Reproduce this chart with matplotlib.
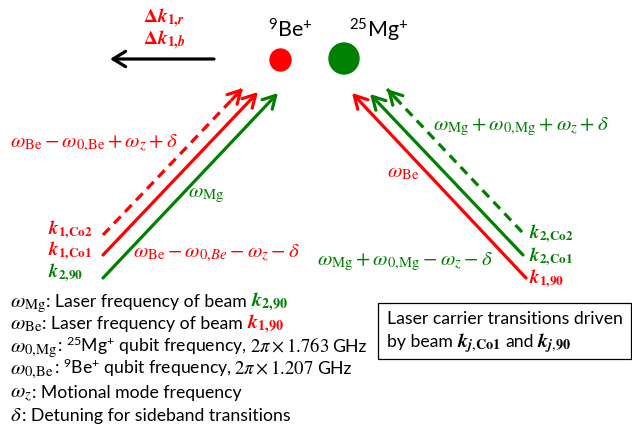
import matplotlib
matplotlib.use('Agg')
import matplotlib.pyplot as plt
from matplotlib.patches import Ellipse, FancyArrowPatch, Rectangle

plt.rcParams['font.family'] = ['Lato', 'DejaVu Sans']
plt.rcParams['mathtext.fontset'] = 'stix'

RED = '#ff0000'
GREEN = '#008000'

# ions: label, colour, centre, size, label position
ions = [
    (r'$\mathregular{^{9}}$Be$\mathregular{^{+}}$', RED, (280.5, 60), (21, 22), (290, 37)),
    (r'$\mathregular{^{25}}$Mg$\mathregular{^{+}}$', GREEN, (344, 58.5), (30, 31), (379, 37)),
]

# beams: start, tip, colour, dashed
beams_left = [
    ((103, 235), (243, 88), RED, True),
    ((103, 255), (258, 92), RED, False),
    ((103, 278), (278, 93), GREEN, False),
]
beams_right = [
    ((522, 232), (387, 89), GREEN, True),
    ((523, 255), (370, 94), GREEN, False),
    ((526, 278), (352, 93), RED, False),
]

beam_labels_left = [r'$\mathbfit{k}_{\mathbf{1,\!Co2}}$', r'$\mathbfit{k}_{\mathbf{1,\!Co1}}$', r'$\mathbfit{k}_{\mathbf{2,\!90}}$']
beam_labels_left_col = [RED, RED, GREEN]
beam_labels_left_y = [234, 255, 277]
beam_labels_right = [r'$\mathbfit{k}_{\mathbf{2,\!Co2}}$', r'$\mathbfit{k}_{\mathbf{2,\!Co1}}$', r'$\mathbfit{k}_{\mathbf{1,\!90}}$']
beam_labels_right_col = [GREEN, GREEN, RED]
beam_labels_right_y = [238, 261, 283]

# frequency labels: text, colour, x, baseline y
freq_labels = [
    (r'$\omega_{\mathrm{Be}} - \omega_{0,\!\mathrm{Be}} + \omega_z + \delta$', RED, 10, 147),
    (r'$\omega_{\mathrm{Mg}}$', GREEN, 188, 197),
    (r'$\omega_{\mathrm{Be}} - \omega_{0,\!Be} - \omega_z - \delta$', RED, 133, 257),
    (r'$\omega_{\mathrm{Mg}} + \omega_{0,\!\mathrm{Mg}} - \omega_z - \delta$', GREEN, 317, 265),
    (r'$\omega_{\mathrm{Mg}} + \omega_{0,\!\mathrm{Mg}} + \omega_z + \delta$', GREEN, 433, 130),
    (r'$\omega_{\mathrm{Be}}$', RED, 387, 177),
]

# legend lines: list of (text, colour, size)
MS = 15    # math size
TS = 12.7  # text size
legend_lines = [
    [(r'$\omega_{\mathrm{Mg}}$', 'black', MS), (': Laser frequency of beam', 'black', TS),
     (r'$\mathbfit{k}_{\mathbf{2,\!90}}$', GREEN, 14.5)],
    [(r'$\omega_{\mathrm{Be}}$', 'black', MS), (': Laser frequency of beam', 'black', TS),
     (r'$\mathbfit{k}_{\mathbf{1,\!90}}$', RED, 14.5)],
    [(r'$\omega_{0,\!\mathrm{Mg}}$', 'black', MS),
     (r': $\mathregular{^{25}}$Mg$\mathregular{^{+}}$ qubit frequency,', 'black', TS),
     (r'$2\pi\times 1.763$', 'black', 13.5), ('GHz', 'black', TS)],
    [(r'$\omega_{0,\!\mathrm{Be}}$', 'black', MS),
     (r': $\mathregular{^{9}}$Be$\mathregular{^{+}}$ qubit frequency,', 'black', TS),
     (r'$2\pi\times 1.207$', 'black', 13.5), ('GHz', 'black', TS)],
    [(r'$\omega_z$', 'black', MS), (': Motional mode frequency', 'black', TS)],
    [(r'$\delta$', 'black', MS), (': Detuning for sideband transitions', 'black', TS)],
]
legend_y = [307, 329, 352, 374, 398, 421]
legend_gap = [[0, 4], [0, 4], [0, 3, 3], [0, 3, 3], [0], [0]]

box_lines = [
    [('Laser carrier transitions driven', 'black', TS)],
    [('by beam', 'black', TS), (r'$\mathbfit{k}_{\mathbfit{j},\!\mathbf{Co1}}$', 'black', 14.5),
     ('and', 'black', TS), (r'$\mathbfit{k}_{\mathbfit{j},\!\mathbf{90}}$', 'black', 14.5)],
]
box_y = [324, 347]

fig = plt.figure(figsize=(6.32, 4.28), dpi=100)
ax = fig.add_axes([0, 0, 1, 1])
ax.set_xlim(0, 632)
ax.set_ylim(428, 0)
ax.axis('off')
renderer = fig.canvas.get_renderer()


def put(x, y, parts, gaps=None):
    for i, (s, c, size) in enumerate(parts):
        t = ax.text(x, y, s, color=c, fontsize=size, va='baseline', ha='left')
        bb = t.get_window_extent(renderer=renderer)
        g = gaps[i] if gaps is not None and i < len(gaps) else 4
        x = bb.x1 + g


def beam(start, tip, col, dashed):
    if dashed:
        ax.plot([start[0], tip[0]], [start[1], tip[1]], color=col, lw=2.3, ls=(0, (3, 2)))
        fx = tip[0] - (tip[0] - start[0]) * 0.08
        fy = tip[1] - (tip[1] - start[1]) * 0.08
        start = (fx, fy)
    a = FancyArrowPatch(start, tip, arrowstyle='->,head_length=0.9,head_width=0.5',
                        mutation_scale=10, color=col, lw=2.3, shrinkA=0, shrinkB=0)
    ax.add_patch(a)


for lab, col, c, wh, lp in ions:
    ax.add_patch(Ellipse(c, wh[0], wh[1], color=col))
    ax.text(lp[0], lp[1], lab, fontsize=15.5, ha='center', va='baseline')

# black recoil arrow and its labels
ax.add_patch(FancyArrowPatch((214, 59), (110, 59), arrowstyle='->,head_length=0.9,head_width=0.55',
                             mutation_scale=10, color='black', lw=2.3, shrinkA=0, shrinkB=0))
ax.text(164, 23, r'$\mathbf{\Delta}\mathbfit{k}_{\mathbf{1,\!}\mathbfit{r}}$', color=RED, fontsize=14, ha='center', va='baseline')
ax.text(164, 45, r'$\mathbf{\Delta}\mathbfit{k}_{\mathbf{1,\!}\mathbfit{b}}$', color=RED, fontsize=14, ha='center', va='baseline')

for b in beams_left + beams_right:
    beam(*b)

for s, c, y in zip(beam_labels_left, beam_labels_left_col, beam_labels_left_y):
    ax.text(48, y, s, color=c, fontsize=13.5, va='baseline')
for s, c, y in zip(beam_labels_right, beam_labels_right_col, beam_labels_right_y):
    ax.text(529, y, s, color=c, fontsize=13.5, va='baseline')

for s, c, x, y in freq_labels:
    ax.text(x, y, s, color=c, fontsize=15, va='baseline')

for parts, y, g in zip(legend_lines, legend_y, legend_gap):
    put(10, y, parts, g)

ax.add_patch(Rectangle((378, 303), 253, 56, fill=False, ec='black', lw=0.9))
for parts, y in zip(box_lines, box_y):
    put(387, y, parts)

fig.savefig('out.png', dpi=100)
